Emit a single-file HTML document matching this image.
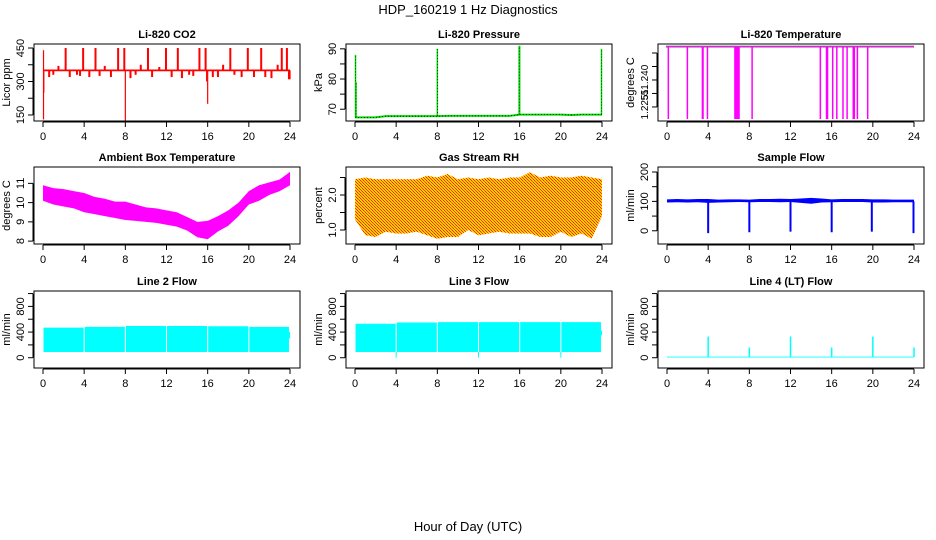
<!DOCTYPE html>
<html><head><meta charset="utf-8"><style>
html,body{margin:0;padding:0;background:#fff;}
svg{display:block;font-family:"Liberation Sans",sans-serif;}
</style></head><body>
<svg id="chart" width="936" height="540" viewBox="0 0 936 540">
<defs>
<pattern id="rhpat" width="3" height="3" patternUnits="userSpaceOnUse">
<rect width="3" height="3" fill="#ffd200"/><rect x="0" y="0" width="1" height="1" fill="#ff2000"/><rect x="1" y="1" width="1" height="1" fill="#ff4000"/><rect x="2" y="2" width="1" height="1" fill="#ff2000"/>
</pattern>
</defs>
<text x="468" y="14" text-anchor="middle" font-size="13">HDP_160219  1 Hz Diagnostics</text>
<text x="468" y="531" text-anchor="middle" font-size="13">Hour of Day (UTC)</text>
</svg>
<script>
// ---------- data ----------
const hours = [0,1,2,3,4,5,6,7,8,9,10,11,12,13,14,15,16,17,18,19,20,21,22,23,24];
const xTicks = [0,4,8,12,16,20,24];

// CO2
const co2Base = 350;
const co2UpHours = [2.2,3.9,5.1,7.3,7.9,10.2,11.95,13.1,15.2,15.8,18.2,19.9,21.2,23.2,23.7];
const co2UpVals = [450,450,450,450,450,450,450,450,450,450,450,450,450,450,450];
const co2SmallHours = [0.6,1.0,1.5,2.6,3.3,3.6,4.5,5.5,6.0,6.6,8.5,9.0,9.5,10.6,11.3,12.5,13.5,14.2,14.6,16.5,17.0,17.5,18.6,19.3,20.5,21.6,22.2,22.8,23.9];
const co2SmallVals = [320,330,370,320,330,325,320,325,370,320,315,330,375,320,365,320,315,330,325,320,320,375,330,320,320,320,315,375,310];
const co2DownHours = [0.05,0.08,8.0,16.0,15.9,24.0];
const co2DownVals = [130,250,125,200,300,310];

// Pressure
const presBase = [67.3,67.3,67.3,67.7,67.7,67.7,67.7,67.7,67.7,67.8,67.8,67.8,67.8,67.8,67.8,67.8,68.2,68.2,68.2,68.2,68.2,68.1,68.2,68.2,68.2];
const presSpikeHours = [0.05,0.1,8.0,16.0,15.95,23.95];
const presSpikeVals = [88,79,90,91,91,90];

// Li-820 temperature
const tempTop = 51.2583;
const tempDropHours = [0.13,1.98,3.44,3.5,3.93,6.6,6.7,6.8,6.9,7.0,8.27,14.9,15.5,15.6,16.1,16.5,17.1,17.5,18.1,18.2,18.5,19.5];
const tempDropVal = 51.2183;

// Ambient box temperature
const ambUpper = [10.9,10.75,10.7,10.6,10.5,10.3,10.2,10.05,10.05,9.9,9.75,9.7,9.6,9.5,9.25,9.0,9.05,9.3,9.6,10.0,10.6,10.9,11.05,11.2,11.6];
const ambLower = [10.1,9.9,9.8,9.7,9.5,9.4,9.3,9.2,9.1,9.05,9.0,8.95,8.85,8.75,8.55,8.2,8.1,8.5,8.8,9.3,9.9,10.1,10.4,10.6,10.9];

// Gas stream RH
const rhTop = [2.45,2.5,2.45,2.45,2.45,2.45,2.45,2.55,2.5,2.6,2.45,2.5,2.45,2.5,2.45,2.5,2.5,2.65,2.5,2.55,2.5,2.5,2.55,2.5,2.45];
const rhBottom = [1.3,0.85,0.8,0.95,0.9,0.9,0.95,0.85,0.75,0.8,0.8,1.0,0.85,0.9,0.95,0.9,0.9,0.9,0.8,0.8,0.95,0.8,0.9,0.75,1.4];

// Sample flow
const sfUpper = [107,108,107,108,108,106,107,107,106,108,108,109,108,110,112,110,107,108,108,108,107,107,106,106,106];
const sfLower = [96,97,96,97,95,96,97,98,97,98,98,97,98,95,92,96,97,98,98,98,96,96,97,97,97];
const sfDropHours = [4,8,12,16,19.9,23.95];
const sfDropVals = [-8,-5,-3,-5,-3,-8];

// Line 2 / 3 / 4 flows
const segStarts = [0,4,8,12,16,20];
const segEnds = [3.95,7.95,11.95,15.95,19.95,23.9];
const l2Top = [470,480,495,495,490,480];
const l2Bottom = [90,90,90,90,90,90];
const l3Top = [530,550,555,555,555,555];
const l3Bottom = [90,90,90,90,90,90];
const l4Base = 10;
const l4SpikeHours = [4,8,12,16,20,24];
const l4SpikeVals = [330,160,330,160,330,160];

// ---------- layout ----------
const NS = 'http://www.w3.org/2000/svg';
const svg = document.getElementById('chart');
const colLeft = [34,346,658];
const rowTop = [44,167,291];
const BW = 266, BH = 77;

function mk(tag, attrs, parent){
  const e = document.createElementNS(NS, tag);
  for (const k in attrs) e.setAttribute(k, attrs[k]);
  (parent||svg).appendChild(e);
  return e;
}

function panel(col,row,title,ylab,ymin,ymax,yt,ytl,name,fs){
  fs = fs || 11;
  const g = mk('g',{});
  
  
  const L = colLeft[col], T = rowTop[row];
  const x0 = L + 9, x1 = L + 256;
  const xs = h => x0 + (h/24)*(x1-x0);
  const ys = v => T + BH - (v-ymin)/(ymax-ymin)*BH;
  const t = mk('text',{x:L+BW/2,y:T-6,'text-anchor':'middle','font-size':11,'font-weight':'bold'},g);
  t.textContent = title;
  
  
  const box = mk('rect',{x:L,y:T,width:BW,height:BH,fill:'none',stroke:'#000','stroke-width':1},g);
  
  
  const xa = mk('g',{},g);
  
  
  mk('line',{x1:xs(0),x2:xs(24),y1:T+BH+1,y2:T+BH+1,stroke:'#000'},xa);
  xTicks.forEach(h=>{
    mk('line',{x1:xs(h),x2:xs(h),y1:T+BH+1,y2:T+BH+6,stroke:'#000'},xa);
    const l = mk('text',{x:xs(h),y:T+BH+19,'text-anchor':'middle','font-size':11},xa);
    l.textContent = h;
    
    
  });
  const ya = mk('g',{},g);
  
  
  mk('line',{x1:L-1,x2:L-1,y1:ys(yt[0]),y2:ys(yt[yt.length-1]),stroke:'#000'},ya);
  yt.forEach((v,i)=>{
    mk('line',{x1:L-6,x2:L-1,y1:ys(v),y2:ys(v),stroke:'#000'},ya);
    if (ytl[i]) {
      const l = mk('text',{x:L-10,y:ys(v),'text-anchor':'middle','font-size':fs,transform:`rotate(-90 ${L-10} ${ys(v)})`},ya);
      l.textContent = ytl[i];
      
      
    }
  });
  const yl = mk('text',{x:L-24,y:T+BH/2,'text-anchor':'middle','font-size':11,transform:`rotate(-90 ${L-24} ${T+BH/2})`},g);
  yl.textContent = ylab;
  
  
  const d = mk('g',{},g);
  
  
  return {xs,ys,d};
}
function vline(p,h,v1,v2,color,w){
  const e = mk('line',{x1:p.xs(h),x2:p.xs(h),y1:p.ys(v1),y2:p.ys(v2),stroke:color,'stroke-width':w||1.5},p.d);
  
  
  return e;
}
function band(p,hs,up,lo,fill,name){
  let pts = hs.map((h,i)=>p.xs(h)+','+p.ys(up[i]));
  for (let i=hs.length-1;i>=0;i--) pts.push(p.xs(hs[i])+','+p.ys(lo[i]));
  const e = mk('polygon',{points:pts.join(' '),fill:fill,stroke:'none'},p.d);
  
  
  return e;
}

// CO2
{
  const p = panel(0,0,'Li-820 CO2','Licor ppm',123,468,[150,225,300,375,450],['150','','300','','450'],'co2');
  band(p,[0,24],[co2Base+4,co2Base+4],[co2Base-4,co2Base-4],'#ff0000','co2-baseline');
  co2UpHours.forEach((h,i)=>vline(p,h,co2Base,co2UpVals[i],'#ff0000',2));
  co2SmallHours.forEach((h,i)=>vline(p,h,co2Base,co2SmallVals[i],'#ff0000',2));
  co2DownHours.forEach((h,i)=>vline(p,h,co2Base,co2DownVals[i],'#ff0000',1.2));
  vline(p,0.05,co2Base,440,'#ff0000',1.2);
}
// Pressure
{
  const p = panel(1,0,'Li-820 Pressure','kPa',66.1,91.6,[70,75,80,85,90],['70','','80','','90'],'pressure');
  const pts = hours.map((h,i)=>p.xs(h)+','+p.ys(presBase[i])).join(' ');
  const pl = mk('polyline',{points:pts,fill:'none',stroke:'#00dd00','stroke-width':2},p.d);
  
  
  const pd = mk('polyline',{points:pts,fill:'none',stroke:'#000','stroke-width':0.8,'stroke-dasharray':'1,2'},p.d);
  
  
  presSpikeHours.forEach((h,i)=>{
    vline(p,h,presBase[Math.round(h)],presSpikeVals[i],'#00dd00',1.5);
    const e = vline(p,h,presBase[Math.round(h)],presSpikeVals[i],'#000',0.7);
    e.setAttribute('stroke-dasharray','1,2');
  });
}
// Li-820 temperature
{
  const p = panel(2,0,'Li-820 Temperature','degrees C',51.2172,51.26,[51.225,51.2325,51.24,51.2475,51.255],['1.225','51.','51.240','',''],'li820-temp',10);
  const tl = mk('line',{x1:p.xs(0)-1,x2:p.xs(24),y1:p.ys(tempTop),y2:p.ys(tempTop),stroke:'#ff00ff','stroke-width':1},p.d);
  
  
  const tb = mk('line',{x1:p.xs(0)-1,x2:p.xs(24),y1:p.ys(tempTop)-1,y2:p.ys(tempTop)-1,stroke:'#444','stroke-width':0.6},p.d);
  
  
  tempDropHours.forEach(h=>vline(p,h,tempTop,tempDropVal,'#ff00ff',1.5));
}
// Ambient
{
  const p = panel(0,1,'Ambient Box Temperature','degrees C',7.85,11.85,[8,9,10,11],['8','9','10','11'],'ambient-temp');
  band(p,hours,ambUpper,ambLower,'#ff00ff','ambient-band');
}
// RH
{
  const p = panel(1,1,'Gas Stream RH','percent',0.6,2.8,[1.0,1.5,2.0,2.5],['1.0','','2.0',''],'gas-rh');
  band(p,hours,rhTop,rhBottom,'url(#rhpat)','rh-band');
}
// Sample flow
{
  const p = panel(2,1,'Sample Flow','ml/min',-45,217,[0,50,100,150,200],['0','','100','','200'],'sample-flow');
  band(p,hours,sfUpper,sfLower,'#0000ff','sample-flow-band');
  sfDropHours.forEach((h,i)=>vline(p,h,100,sfDropVals[i],'#0000ff',2));
}
// Flows
function flowPanel(col,title,top,bot,name){
  const p = panel(col,2,title,'ml/min',-160,1040,[0,200,400,600,800,1000],['0','','400','','800',''],name);
  segStarts.forEach((s,i)=>band(p,[s+0.05,segEnds[i]],[top[i],top[i]],[bot[i],bot[i]],'#00ffff',name+'-segment'));
  return p;
}
{ const p = flowPanel(0,'Line 2 Flow',l2Top,l2Bottom,'line2-flow'); band(p,[23.9,24],[400,400],[300,300],'#00ffff','line2-tail'); }
{ const p = flowPanel(1,'Line 3 Flow',l3Top,l3Bottom,'line3-flow'); band(p,[23.9,24],[420,420],[350,350],'#00ffff','line3-tail');
  [4,12,20].forEach(h=>vline(p,h,90,0,'#00ffff',1)); }
{
  const p = panel(2,2,'Line 4 (LT) Flow','ml/min',-160,1040,[0,200,400,600,800,1000],['0','','400','','800',''],'line4-flow');
  band(p,[0,24],[l4Base+8,l4Base+8],[l4Base-6,l4Base-6],'#00ffff','line4-baseline');
  l4SpikeHours.forEach((h,i)=>vline(p,h,l4Base,l4SpikeVals[i],'#00ffff',1.5));
}
</script>
</body></html>
